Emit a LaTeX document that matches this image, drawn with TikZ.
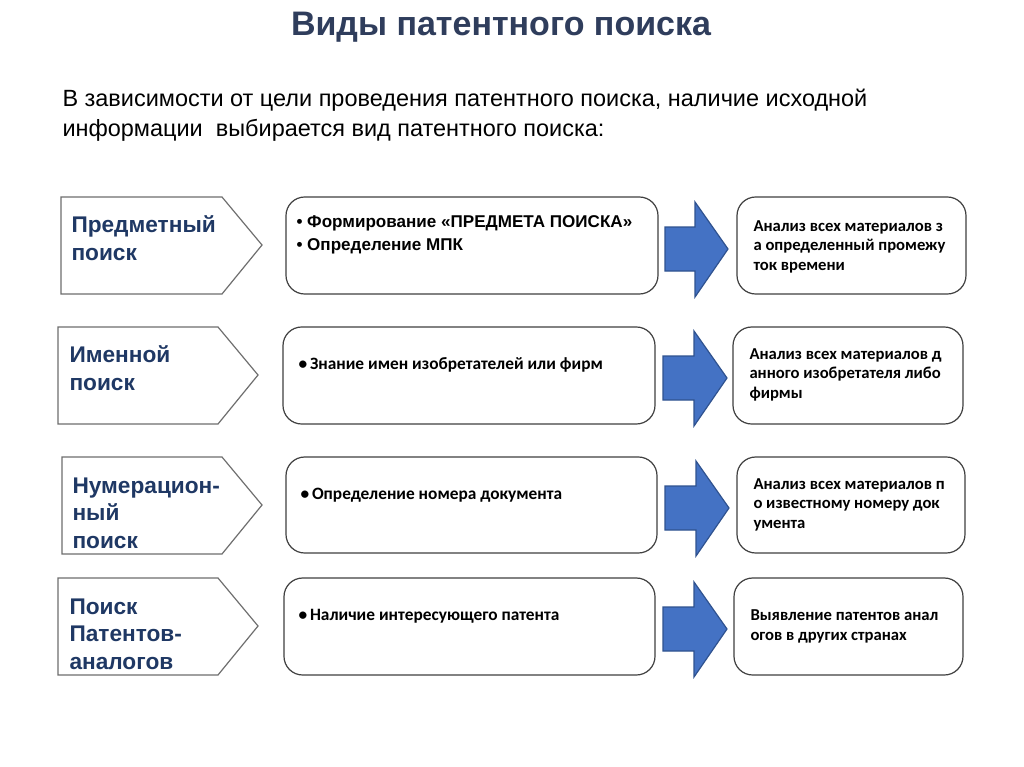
\documentclass[tikz,border=0pt]{standalone}
\usepackage{fontspec}
\setmainfont{Liberation Sans}
\newfontfamily\calfont{Carlito}
\definecolor{titlecol}{RGB}{47,61,92}
\definecolor{labelcol}{RGB}{31,56,100}
\definecolor{arrowfill}{RGB}{68,114,196}
\definecolor{arrowline}{RGB}{47,82,143}
\tikzset{every picture/.style={line width=0.75pt}}
\tikzset{
  tagshape/.style={draw={rgb,255:red,110;green,110;blue,110},fill=white,line width=0.9pt},
  stepbox/.style={draw=black!75,fill=white,rounded corners=14pt,line width=0.9pt},
  bluearrow/.style={draw=arrowline,fill=arrowfill,line width=0.9pt},
  tagtext/.style={anchor=base west,align=left,inner sep=0pt,text=labelcol,font=\bfseries\fontsize{17}{20.5}\selectfont},
  midtext/.style={anchor=base west,align=left,inner sep=0pt,font=\bfseries\fontsize{12.8}{17}\selectfont},
  midcal/.style={anchor=base west,inner sep=0pt,font=\calfont\bfseries\fontsize{13}{16}\selectfont},
  restext/.style={anchor=base west,align=left,inner sep=0pt,font=\calfont\bfseries\fontsize{12.5}{14.3}\selectfont}
}
\begin{document}
\begin{tikzpicture}[
            x=0.75pt,
            y=0.75pt,
            yscale=-1,
            xscale=1,
            every node/.style={text=black},
            line width=0.75pt
        ]
            \useasboundingbox (0,0) rectangle (1024,767);
            \fill[white] (0,0) rectangle (1024,767);
            % heading
            \node[anchor=base,inner sep=0pt,text=titlecol,font=\bfseries\fontsize{25.5}{30}\selectfont] (title) at (501,36) {Виды патентного поиска};
            \node[anchor=base west,align=left,inner sep=0pt,font=\fontsize{17.6}{22.5}\selectfont] (intro) at (62,137) {В зависимости от цели проведения патентного поиска, наличие исходной\\информации\ \ выбирается вид патентного поиска:};
            % row 1
            \draw[tagshape] (61,197) -- (222,197) -- (262,245) -- (222,294) -- (61,294) -- cycle ;
            \node[tagtext] (subj) at (71,260) {Предметный\\поиск};
            \draw[stepbox] (286,197) rectangle (658,294) ;
            \node[midtext] (subjtask) at (296,250) {• Формирование «ПРЕДМЕТА ПОИСКА»\\• Определение МПК};
            \draw[bluearrow] (665,227) -- (695,227) -- (695,202) -- (728,249) -- (695,297) -- (695,271) -- (665,271) -- cycle ;
            \draw[stepbox] (737,197) rectangle (966,294) ;
            \node[restext] (subjres) at (753,270) {Анализ всех материалов з\\а определенный промежу\\ток времени};
            % row 2
            \draw[tagshape] (58,327) -- (218,327) -- (258,375) -- (218,424) -- (58,424) -- cycle ;
            \node[tagtext] (name) at (69,390) {Именной\\поиск};
            \draw[stepbox] (283,327) rectangle (655,424) ;
            \node[midcal] (nametask) at (298,369) {•\,Знание имен изобретателей или фирм};
            \draw[bluearrow] (663,356) -- (694,356) -- (694,331) -- (727,378) -- (694,426) -- (694,400) -- (663,400) -- cycle ;
            \draw[stepbox] (733,327) rectangle (963,424) ;
            \node[restext] (nameres) at (749,398) {Анализ всех материалов д\\анного изобретателя либо\\фирмы};
            % row 3
            \draw[tagshape] (62,457) -- (222,457) -- (262,505) -- (222,554) -- (62,554) -- cycle ;
            \node[tagtext] (numb) at (72,548) {Нумерацион-\\ный\\поиск};
            \draw[stepbox] (286,457) rectangle (657,553) ;
            \node[midcal] (numbtask) at (300,499) {•\,Определение номера документа};
            \draw[bluearrow] (665,486) -- (696,486) -- (696,461) -- (729,508) -- (696,556) -- (696,530) -- (665,530) -- cycle ;
            \draw[stepbox] (737,457) rectangle (965,553) ;
            \node[restext] (numbres) at (753,528) {Анализ всех материалов п\\о известному номеру док\\умента};
            % row 4
            \draw[tagshape] (58,578) -- (218,578) -- (258,626) -- (218,675) -- (58,675) -- cycle ;
            \node[tagtext] (anlg) at (69,669) {Поиск\\Патентов-\\аналогов};
            \draw[stepbox] (284,578) rectangle (655,675) ;
            \node[midcal] (anlgtask) at (298,620) {•\,Наличие интересующего патента};
            \draw[bluearrow] (663,607) -- (694,607) -- (694,582) -- (727,629) -- (694,677) -- (694,651) -- (663,651) -- cycle ;
            \draw[stepbox] (734,578) rectangle (963,675) ;
            \node[restext] (anlgres) at (750,640) {Выявление патентов анал\\огов в других странах};
        \end{tikzpicture}
\end{document}
